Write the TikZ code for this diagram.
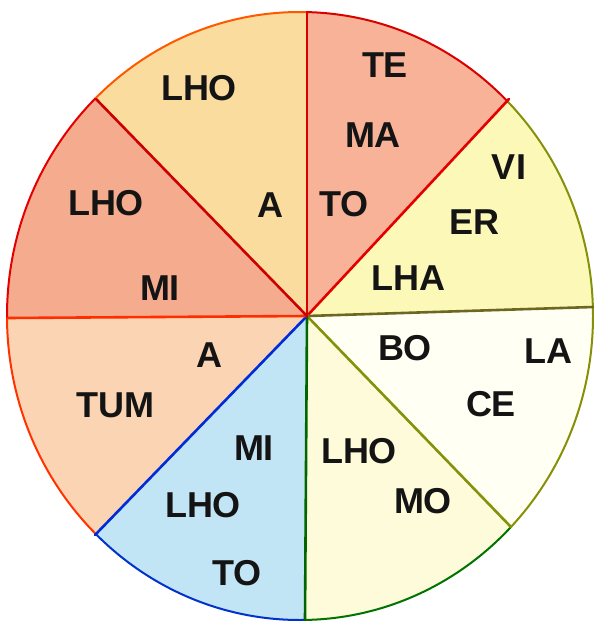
\documentclass[tikz,border=0pt]{standalone}
\usepackage{fontspec}
\setmainfont{Liberation Sans}
\usetikzlibrary{calc}

\definecolor{fillTE}{HTML}{F7B298}
\definecolor{fillVI}{HTML}{FCF8B8}
\definecolor{fillBO}{HTML}{FFFFF4}
\definecolor{fillMO}{HTML}{FDFBDA}
\definecolor{fillTO}{HTML}{C2E5F6}
\definecolor{fillTUM}{HTML}{FBD5B3}
\definecolor{fillMI}{HTML}{F5AB8D}
\definecolor{fillLHO}{HTML}{FBDC9F}

\begin{document}
\begin{tikzpicture}[x=1pt,y=-1pt,
  word/.style={font=\fontsize{36}{36}\selectfont\bfseries,text=black!92,inner sep=0pt},
  rim/.style={line width=2pt},
  spoke/.style={line width=2.6pt,line cap=round}]
\useasboundingbox (0,0) rectangle (594,621);
\coordinate (mid) at (300,316);
\coordinate (hub) at (307,316);
\coordinate (n) at (307,12);
\coordinate (ne) at (509,99);
\coordinate (e) at (593,307);
\coordinate (se) at (511,527);
\coordinate (s) at (305,620);
\coordinate (sw) at (95,535);
\coordinate (w) at (8,318);
\coordinate (nw) at (96,99);

% sectors, fill and outer rim
\begin{scope}
\clip (hub) -- ($(hub)!1.6!(n)$) -- ($(hub)!1.6!(ne)$) -- cycle;
\fill[fillTE] (mid) ellipse [x radius=293pt,y radius=304pt];
\draw[rim,draw=red!85!black] (mid) ellipse [x radius=293pt,y radius=304pt];
\end{scope}
\begin{scope}
\clip (hub) -- ($(hub)!1.6!(ne)$) -- ($(hub)!1.6!(e)$) -- cycle;
\fill[fillVI] (mid) ellipse [x radius=293pt,y radius=304pt];
\draw[rim,draw=olive!80!green] (mid) ellipse [x radius=293pt,y radius=304pt];
\end{scope}
\begin{scope}
\clip (hub) -- ($(hub)!1.6!(e)$) -- ($(hub)!1.6!(se)$) -- cycle;
\fill[fillBO] (mid) ellipse [x radius=293pt,y radius=304pt];
\draw[rim,draw=olive!85!green] (mid) ellipse [x radius=293pt,y radius=304pt];
\end{scope}
\begin{scope}
\clip (hub) -- ($(hub)!1.6!(se)$) -- ($(hub)!1.6!(s)$) -- cycle;
\fill[fillMO] (mid) ellipse [x radius=293pt,y radius=304pt];
\draw[rim,draw=green!45!black] (mid) ellipse [x radius=293pt,y radius=304pt];
\end{scope}
\begin{scope}
\clip (hub) -- ($(hub)!1.6!(s)$) -- ($(hub)!1.6!(sw)$) -- cycle;
\fill[fillTO] (mid) ellipse [x radius=293pt,y radius=304pt];
\draw[rim,draw=blue!75!cyan!80!black] (mid) ellipse [x radius=293pt,y radius=304pt];
\end{scope}
\begin{scope}
\clip (hub) -- ($(hub)!1.6!(sw)$) -- ($(hub)!1.6!(w)$) -- cycle;
\fill[fillTUM] (mid) ellipse [x radius=293pt,y radius=304pt];
\draw[rim,draw=orange!40!red] (mid) ellipse [x radius=293pt,y radius=304pt];
\end{scope}
\begin{scope}
\clip (hub) -- ($(hub)!1.6!(w)$) -- ($(hub)!1.6!(nw)$) -- cycle;
\fill[fillMI] (mid) ellipse [x radius=293pt,y radius=304pt];
\draw[rim,draw=red!90!black] (mid) ellipse [x radius=293pt,y radius=304pt];
\end{scope}
\begin{scope}
\clip (hub) -- ($(hub)!1.6!(nw)$) -- ($(hub)!1.6!(n)$) -- cycle;
\fill[fillLHO] (mid) ellipse [x radius=293pt,y radius=304pt];
\draw[rim,draw=orange!70!red] (mid) ellipse [x radius=293pt,y radius=304pt];
\end{scope}

% spokes
\draw[spoke,red!85!black] (hub) -- (n);
\draw[spoke,red!90!black] (hub) -- (ne);
\draw[spoke,olive!70!black] (hub) -- (e);
\draw[spoke,olive!80!green] (hub) -- (se);
\draw[spoke,green!40!black] (hub) -- (s);
\draw[spoke,blue!80!cyan!85!black] (hub) -- (sw);
\draw[spoke,orange!35!red] (hub) -- (w);
\draw[spoke,red!80!black] (hub) -- (nw);

% syllables
\node[word] (te) at (385,65) {TE};
\node[word] (ma) at (373,135) {MA};
\node[word] (toA) at (344,204) {TO};
\node[word] (vi) at (509,167) {VI};
\node[word] (er) at (474,222) {ER};
\node[word] (lha) at (408,278) {LHA};
\node[word] (bo) at (405,348) {BO};
\node[word] (la) at (548,351) {LA};
\node[word] (ce) at (491,404) {CE};
\node[word] (lhoD) at (359,451) {LHO};
\node[word] (mo) at (423,501) {MO};
\node[word] (miB) at (254,448) {MI};
\node[word] (lhoC) at (203,505) {LHO};
\node[word] (toB) at (237,573) {TO};
\node[word] (aB) at (209,355) {A};
\node[word] (tum) at (115,405) {TUM};
\node[word] (lhoB) at (106,203) {LHO};
\node[word] (miA) at (160,288) {MI};
\node[word] (lhoA) at (199,88) {LHO};
\node[word] (aA) at (270,205) {A};
\end{tikzpicture}
\end{document}
